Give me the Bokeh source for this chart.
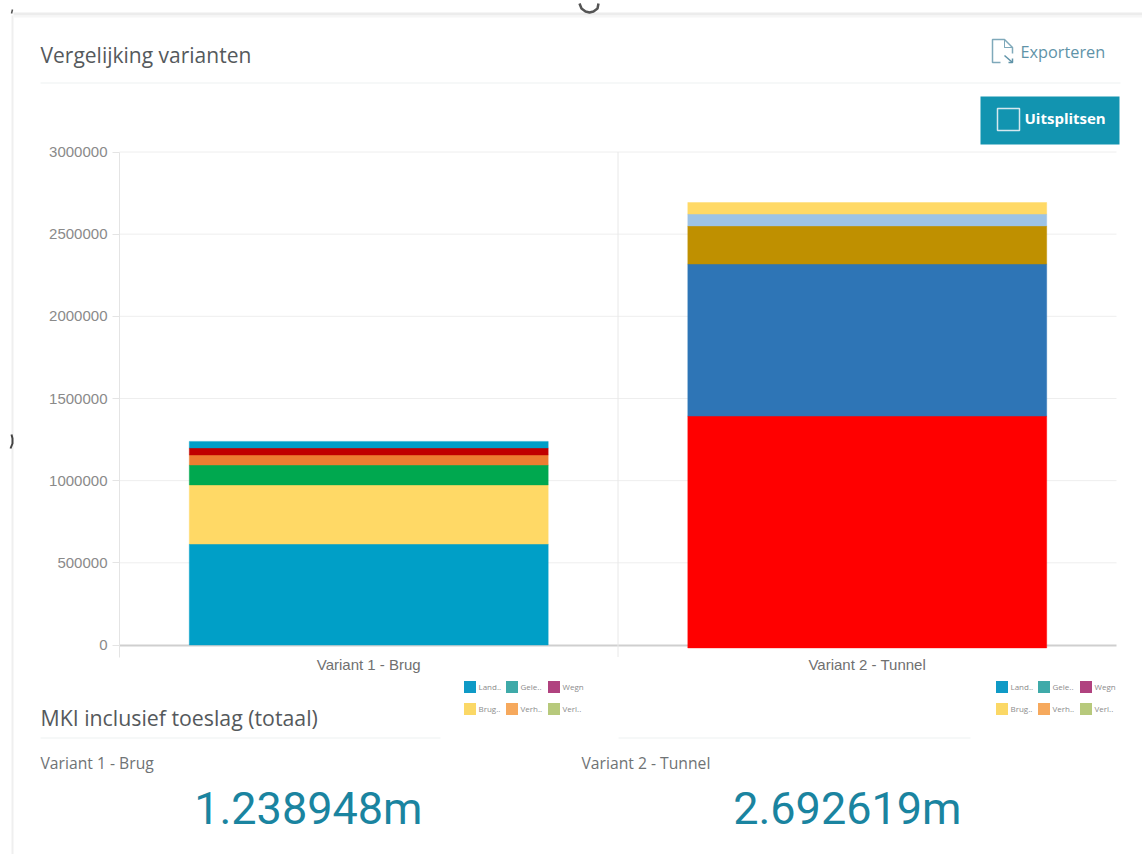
from bokeh.plotting import figure
from bokeh.models import (Range1d, FixedTicker, Label, BoxAnnotation, PolyAnnotation,
                          Legend, LegendItem)
from bokeh.embed import file_html
from bokeh.resources import INLINE

# ---- data ----
categories = ["Variant 1 - Brug", "Variant 2 - Tunnel"]
y_ticks = [0, 500000, 1000000, 1500000, 2000000, 2500000, 3000000]

variant1_values = [614000, 360000, 121000, 61000, 43000, 39948]
variant1_colors = ["#009fc7", "#ffd966", "#00a84f", "#ed7d31", "#c00000", "#009fc7"]
variant2_values = [1393000, 925000, 232000, 72000, 70619]
variant2_colors = ["#ff0000", "#2e75b6", "#bf9000", "#9dc3e6", "#ffd966"]
variant2_base = -18000

legend_labels = ["Land..", "Brug..", "Gele..", "Verh..", "Wegn", "Verl.."]
legend_colors = ["#0f9ac6", "#fbd866", "#3faaa9", "#f6a95d", "#b0427f", "#b7c97c"]

totals = ["1.238948m", "2.692619m"]

W, H = 1142, 854
# plot area in pixels
PL, PR, PT, PB = 119, 1116, 151.5, 644.5
ux = 2 / (PR - PL)
uy = 3000000 / (PB - PT)
y_low = -12 * uy

p = figure(width=W, height=H, output_backend="svg", toolbar_location=None,
           x_range=Range1d(-PL * ux, (W - PL) * ux),
           y_range=Range1d(-(H - PB) * uy, 3000000 + PT * uy),
           min_border=0, outline_line_color=None,
           background_fill_color="white", border_fill_color="white")
p.grid.visible = False

# ---- axes ----
xax = p.xaxis[0]
xax.ticker = FixedTicker(ticks=[0.5, 1.5])
xax.major_label_overrides = {0.5: categories[0], 1.5: categories[1]}
xax.fixed_location = 0
xax.bounds = (0, 2)
xax.level = "underlay"
xax.axis_line_color = "#cfcfcf"
xax.axis_line_width = 2
xax.major_tick_line_color = None
xax.minor_tick_line_color = None
xax.major_label_standoff = 5
xax.major_label_text_font = "Liberation Sans"
xax.major_label_text_font_size = "15px"
xax.major_label_text_color = "#707070"

yax = p.yaxis[0]
yax.ticker = FixedTicker(ticks=y_ticks)
yax.formatter.use_scientific = False
yax.fixed_location = 0
yax.bounds = (y_low, 3000000)
yax.axis_line_color = "#e4e4e4"
yax.major_tick_line_color = "#e4e4e4"
yax.major_tick_in = 0
yax.major_tick_out = 7
yax.minor_tick_line_color = None
yax.major_label_standoff = 5
yax.major_label_text_font = "Liberation Sans"
yax.major_label_text_font_size = "15px"
yax.major_label_text_color = "#8a8a8a"

# grid lines, bounded to the plot area
p.segment(x0=[0] * 6, x1=[2] * 6, y0=y_ticks[1:], y1=y_ticks[1:], line_color="#eeeeee", line_width=1)
p.segment(x0=[1], x1=[1], y0=[y_low], y1=[3000000], line_color="#e8e8e8", line_width=1)

# ---- stacked bars ----
BAR_W = 0.72
b = 0
for v, c in zip(variant1_values, variant1_colors):
    p.vbar(x=[0.5], bottom=[b], top=[b + v], width=BAR_W, fill_color=c, line_color=c, line_width=0.4)
    b += v
b = variant2_base
cum = 0
for v, c in zip(variant2_values, variant2_colors):
    p.vbar(x=[1.5], bottom=[b], top=[cum + v], width=BAR_W, fill_color=c, line_color=c, line_width=0.4)
    cum += v
    b = cum

# ---- legends ----
for lx in (463, 995):
    items = []
    for lab, col in zip(legend_labels, legend_colors):
        # off-range point: this renderer only supplies the legend swatch
        r = p.vbar(x=[-100], bottom=[0], top=[1], width=0.1, fill_color=col, line_color=None)
        items.append(LegendItem(label=lab, renderers=[r]))
    leg = Legend(items=items, location=(lx - 1.5, H - 719), ncols=3, orientation="vertical",
                 glyph_width=15, glyph_height=15, label_standoff=2, spacing=0, padding=0, margin=0,
                 label_text_font="Open Sans", label_text_font_size="8px", label_text_color="#8c8c8c",
                 label_height=22, label_width=25, background_fill_alpha=0, border_line_color=None)
    p.add_layout(leg, "center")

# ---- page furniture ----
def text(x, y, s, size, color, align="left", font="Open Sans", style="normal"):
    p.add_layout(Label(x=x, y=y, x_units="canvas", y_units="canvas", text=s,
                       text_font=font, text_font_size=f"{size}px", text_color=color,
                       text_align=align, text_baseline="middle", text_font_style=style))

def box(x0, y0, x1, y1, fill=None, line=None, lw=1, level="annotation"):
    p.add_layout(BoxAnnotation(left=x0, right=x1, top=y0, bottom=y1,
                               left_units="canvas", right_units="canvas",
                               top_units="canvas", bottom_units="canvas",
                               fill_color=fill or "white", fill_alpha=1 if fill else 0,
                               line_color=line or "white", line_width=lw, line_alpha=1 if line else 0,
                               level=level))

def stroke(pts, color, lw=1.5):
    xs = [a for a, _ in pts]
    ys = [c for _, c in pts]
    p.add_layout(PolyAnnotation(xs=xs + xs[-2:0:-1], ys=ys + ys[-2:0:-1],
                                xs_units="canvas", ys_units="canvas",
                                fill_alpha=0, line_alpha=1, line_color=color, line_width=lw))

# card edges and window residue
box(11, 15, 13, 854, fill="#efefef", level="underlay")
box(13, 12, 1142, 15, fill="#ececec", level="underlay")
box(13, 15, 1142, 17, fill="#f6f6f6", level="underlay")
stroke([(579, 3), (581, 8), (585, 11), (589, 12), (593, 11), (597, 8), (598, 3)], "#555555", 2.5)
stroke([(11, 434), (12, 438), (12, 443), (10, 448)], "#444444", 2)
stroke([(12, 9), (11, 13)], "#555555", 1.5)
# rules
box(40, 82, 1120, 83, fill="#eef1f1", level="underlay")
box(40, 737, 440, 738, fill="#eef1f1", level="underlay")
box(618, 737, 970, 738, fill="#eef1f1", level="underlay")

text(40, 54, "Vergelijking varianten", 21, "#55595c")
text(1020, 51, "Exporteren", 16.3, "#5f93a8")
stroke([(1000, 62), (992, 62), (992, 39), (1004, 39), (1012, 47), (1012, 53)], "#7fa9ba")
stroke([(1004, 39), (1004, 47), (1012, 47)], "#7fa9ba", 1)
stroke([(1004, 55), (1012, 62)], "#5f93a8")
stroke([(1012, 58), (1012, 62), (1008, 62)], "#5f93a8")
box(980, 96, 1119, 144, fill="#1294b0")
box(997, 108, 1019, 130, line="#d5e8ef", lw=1.5)
text(1024, 117.5, "Uitsplitsen", 15, "white", style="bold")

text(40, 717, "MKI inclusief toeslag (totaal)", 21.3, "#55595c")
text(40, 762, categories[0], 15.7, "#6f7375")
text(581, 762, categories[1], 15.7, "#6f7375")
text(422, 808, totals[0], 45, "#1a84a0", align="right", font="Roboto")
text(961, 808, totals[1], 45, "#1a84a0", align="right", font="Roboto")

open("out.html", "w").write(file_html(p, INLINE))
